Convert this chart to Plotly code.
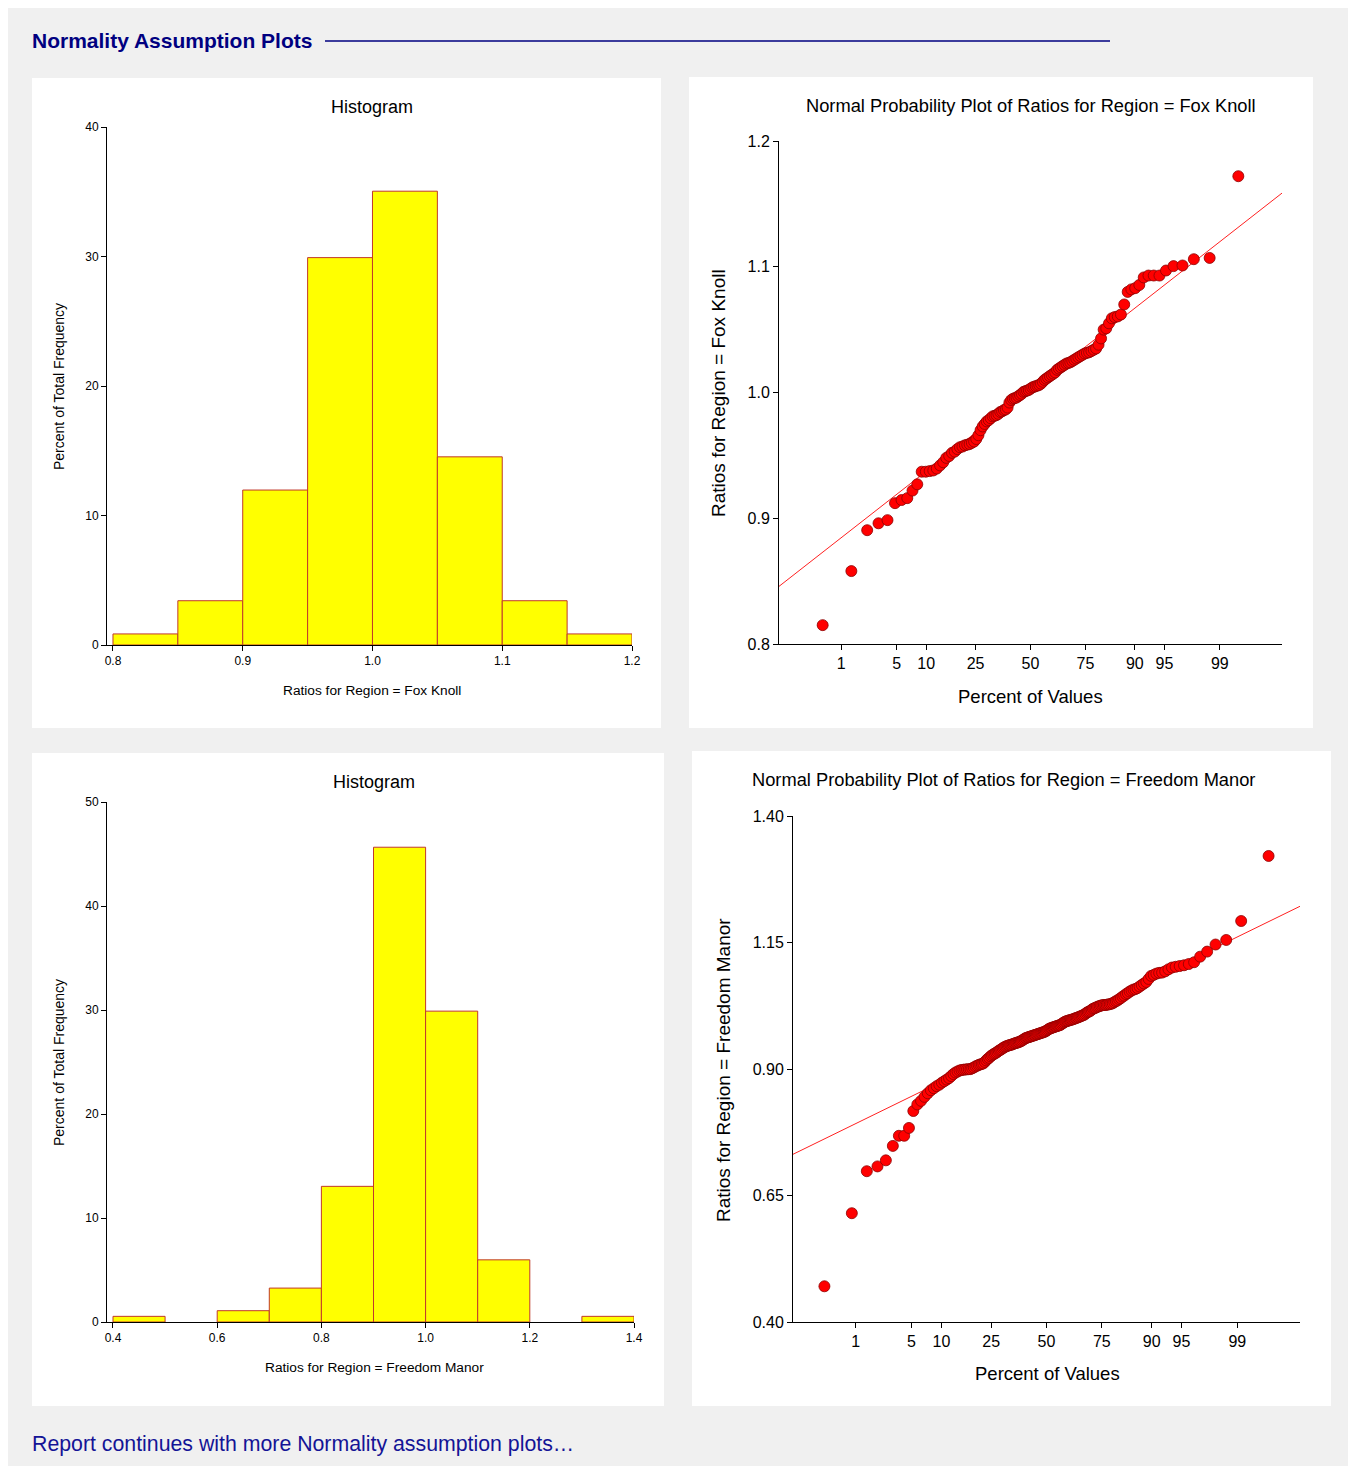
import plotly.graph_objects as go
from statistics import NormalDist

# page is 1356x1474; body keeps its default 8px margin, so the figure is offset by 8px
OFF = 8
W, H = 1340, 1458

# ---------------- data ----------------
fox_bin_edges = [0.80, 0.85, 0.90, 0.95, 1.00, 1.05, 1.10, 1.15, 1.20]
fox_bin_counts = [1, 4, 14, 35, 41, 17, 4, 1]

fm_bin_edges = [0.4, 0.5, 0.6, 0.7, 0.8, 0.9, 1.0, 1.1, 1.2, 1.3, 1.4]
fm_bin_counts = [1, 0, 2, 6, 24, 84, 55, 11, 0, 1]

fox_sorted = [
    0.815, 0.858, 0.8905, 0.896, 0.8985,
    0.912, 0.9145, 0.916, 0.922, 0.927, 0.937, 0.937, 0.9375, 0.938, 0.9395,
    0.942, 0.9445, 0.948, 0.9495,
    0.952, 0.953, 0.955, 0.9565, 0.957, 0.958, 0.9585, 0.959, 0.960, 0.961,
    0.963, 0.966, 0.970, 0.973, 0.975, 0.977, 0.978, 0.9795, 0.981, 0.9815,
    0.982, 0.983, 0.9845, 0.985, 0.986, 0.9865, 0.988, 0.992, 0.994, 0.995,
    0.9955, 0.996, 0.997, 0.998, 0.999,
    1.0005, 1.001, 1.0015, 1.002, 1.003, 1.004, 1.0045, 1.005, 1.0055, 1.006,
    1.007, 1.0085, 1.010, 1.011, 1.012, 1.013, 1.014, 1.015, 1.016, 1.018,
    1.019, 1.020, 1.021, 1.022, 1.023, 1.0235, 1.024, 1.025, 1.026, 1.027,
    1.028, 1.029, 1.030, 1.031, 1.0315, 1.032, 1.033, 1.034, 1.035, 1.038,
    1.043,
    1.050, 1.051, 1.055, 1.059, 1.060, 1.0605, 1.062, 1.070, 1.080, 1.082,
    1.083, 1.0855, 1.0915, 1.093, 1.093, 1.093, 1.097,
    1.1005, 1.101, 1.106, 1.107,
    1.172,
]

fm_sorted = [
    0.4706,
    0.615, 0.698,
    0.7075, 0.7195, 0.748, 0.768, 0.768, 0.7835,
    0.817, 0.830, 0.837, 0.845, 0.852, 0.858, 0.862, 0.866, 0.869, 0.873,
    0.876, 0.879, 0.882, 0.886, 0.890, 0.893, 0.895, 0.897, 0.898, 0.8985,
    0.899, 0.8993, 0.8996, 0.8998,
    0.9015, 0.903, 0.905, 0.9065, 0.908, 0.909, 0.910, 0.911, 0.914, 0.917,
    0.920, 0.922, 0.925, 0.927, 0.929, 0.9305, 0.932, 0.934, 0.936, 0.9375,
    0.939, 0.941, 0.9425, 0.944, 0.945, 0.946, 0.9467, 0.9475, 0.948, 0.949,
    0.950, 0.9508, 0.9515, 0.9523, 0.953, 0.954, 0.955, 0.9565, 0.958, 0.9595,
    0.961, 0.9617, 0.9625, 0.9632, 0.964, 0.9647, 0.9655, 0.9662, 0.967, 0.9677,
    0.9685, 0.9692, 0.970, 0.9707, 0.9715, 0.9722, 0.973, 0.9737, 0.975, 0.9765,
    0.978, 0.9795, 0.9805, 0.981, 0.982, 0.9827, 0.9835, 0.9842, 0.985, 0.9857,
    0.9865, 0.9872, 0.989, 0.9905, 0.992, 0.9935, 0.9942, 0.995, 0.9957, 0.9965,
    0.997, 0.9977, 0.9985, 0.9993,
    1.0005, 1.001, 1.002, 1.003, 1.004, 1.005, 1.006, 1.007, 1.009, 1.011,
    1.0125, 1.0135, 1.015, 1.017, 1.019, 1.020, 1.021, 1.0225, 1.0235, 1.0245,
    1.0255, 1.026, 1.0265, 1.0265, 1.027, 1.0275, 1.028, 1.029, 1.030, 1.032,
    1.034, 1.0355, 1.038, 1.040, 1.043, 1.045, 1.048, 1.050, 1.053, 1.055,
    1.057, 1.058, 1.060, 1.063, 1.066, 1.069, 1.072, 1.078, 1.084, 1.086,
    1.0885, 1.090, 1.0905, 1.093, 1.097,
    1.1005, 1.102, 1.1035, 1.105, 1.1075, 1.111, 1.122, 1.132, 1.146, 1.155,
    1.1925,
    1.321,
]

# reference lines (mean, sd)
fox_ref = (1.0022, 0.0506)
fm_ref = (0.9765, 0.0793)

pct_ticks = [1, 5, 10, 25, 50, 75, 90, 95, 99]
fox_yticks = [0.8, 0.9, 1.0, 1.1, 1.2]
fm_yticks = [0.40, 0.65, 0.90, 1.15, 1.40]
hist_fox_yticks = [0, 10, 20, 30, 40]
hist_fm_yticks = [0, 10, 20, 30, 40, 50]
hist_fox_xticks = [0.8, 0.9, 1.0, 1.1, 1.2]
hist_fm_xticks = [0.4, 0.6, 0.8, 1.0, 1.2, 1.4]

# ---------------- helpers ----------------
nd = NormalDist()
FONT = "Liberation Sans, Arial, sans-serif"
BAR_FILL = "#ffff00"
BAR_LINE = "#c0392b"
PT_FILL = "#ff0000"
PT_LINE = "#8b0000"


def fx(px):
    return (px - OFF) / W


def fy(py):
    return 1 - (py - OFF) / H


def blom(n):
    return [nd.inv_cdf((i - 0.375) / (n + 0.25)) for i in range(1, n + 1)]


fig = go.Figure()


def add_hist(edges, counts, xa, ya):
    n = sum(counts)
    centers, widths, pct = [], [], []
    for i, c in enumerate(counts):
        if c == 0:
            continue
        centers.append((edges[i] + edges[i + 1]) / 2)
        widths.append(edges[i + 1] - edges[i])
        pct.append(c / n * 100)
    fig.add_trace(go.Bar(
        x=centers, y=pct, width=widths, xaxis=xa, yaxis=ya,
        marker=dict(color=BAR_FILL, line=dict(color=BAR_LINE, width=1)),
        showlegend=False, hoverinfo="skip",
    ))


add_hist(fox_bin_edges, fox_bin_counts, "x", "y")
add_hist(fm_bin_edges, fm_bin_counts, "x3", "y3")

ZR = nd.inv_cdf(0.999)


def add_prob(vals, ref, xa, ya):
    z = blom(len(vals))
    m, s = ref
    fig.add_trace(go.Scatter(
        x=[-ZR, ZR], y=[m - s * ZR, m + s * ZR], mode="lines",
        line=dict(color="#ff2020", width=1), xaxis=xa, yaxis=ya,
        showlegend=False, hoverinfo="skip",
    ))
    fig.add_trace(go.Scatter(
        x=z, y=vals, mode="markers", xaxis=xa, yaxis=ya,
        marker=dict(size=11, color=PT_FILL, line=dict(color=PT_LINE, width=0.8)),
        showlegend=False, cliponaxis=False,
    ))


add_prob(fox_sorted, fox_ref, "x2", "y2")
add_prob(fm_sorted, fm_ref, "x4", "y4")

axis_common = dict(
    showline=True, linecolor="black", linewidth=1, ticks="outside",
    ticklen=5, tickcolor="black", tickwidth=1, showgrid=False,
    zeroline=False, fixedrange=True, automargin=False,
)

pz = [nd.inv_cdf(p / 100) for p in pct_ticks]

layout = dict(
    width=W, height=H, autosize=False,
    margin=dict(l=0, r=0, t=0, b=0, pad=0, autoexpand=False),
    paper_bgcolor="#f0f0f0", plot_bgcolor="rgba(0,0,0,0)",
    font=dict(family=FONT, color="black"),
    xaxis=dict(axis_common, domain=[fx(107), fx(632)], range=[0.7954, 1.2],
               anchor="y", tickvals=hist_fox_xticks,
               ticktext=[f"{v:.1f}" for v in hist_fox_xticks],
               tickfont=dict(size=12)),
    yaxis=dict(axis_common, domain=[fy(645), fy(127)], range=[0, 40],
               anchor="x", tickvals=hist_fox_yticks, tickfont=dict(size=12)),
    xaxis2=dict(axis_common, domain=[fx(779), fx(1282)], range=[-ZR, ZR],
                anchor="y2", tickvals=pz, ticktext=[str(p) for p in pct_ticks],
                tickfont=dict(size=16)),
    yaxis2=dict(axis_common, domain=[fy(644), fy(141)], range=[0.8, 1.2],
                anchor="x2", tickvals=fox_yticks,
                ticktext=[f"{v:.1f}" for v in fox_yticks],
                tickfont=dict(size=16)),
    xaxis3=dict(axis_common, domain=[fx(107), fx(634)], range=[0.3885, 1.4],
                anchor="y3", tickvals=hist_fm_xticks,
                ticktext=[f"{v:.1f}" for v in hist_fm_xticks],
                tickfont=dict(size=12)),
    yaxis3=dict(axis_common, domain=[fy(1322), fy(802)], range=[0, 50],
                anchor="x3", tickvals=hist_fm_yticks, tickfont=dict(size=12)),
    xaxis4=dict(axis_common, domain=[fx(793), fx(1300)], range=[-ZR, ZR],
                anchor="y4", tickvals=pz, ticktext=[str(p) for p in pct_ticks],
                tickfont=dict(size=16)),
    yaxis4=dict(axis_common, domain=[fy(1322), fy(816)], range=[0.40, 1.40],
                anchor="x4", tickvals=fm_yticks,
                ticktext=[f"{v:.2f}" for v in fm_yticks],
                tickfont=dict(size=16)),
)

shapes = []
for (x0, y0, x1, y1) in [(32, 78, 661, 728), (689, 77, 1313, 728),
                         (32, 753, 664, 1406), (692, 751, 1331, 1406)]:
    shapes.append(dict(type="rect", xref="paper", yref="paper",
                       x0=fx(x0), x1=fx(x1), y0=fy(y1), y1=fy(y0),
                       fillcolor="white", line=dict(width=0), layer="below"))
shapes.append(dict(type="line", xref="paper", yref="paper", x0=fx(325), x1=fx(1110),
                   y0=fy(41), y1=fy(41), line=dict(color="#000080", width=1.5)))
layout["shapes"] = shapes


def ann(text, px, py, size, color="black", xanchor="center", angle=0, bold=False):
    return dict(text=f"<b>{text}</b>" if bold else text, x=fx(px), y=fy(py),
                xref="paper", yref="paper", xanchor=xanchor, yanchor="middle",
                showarrow=False, textangle=angle, borderpad=0,
                font=dict(size=size, color=color, family=FONT))


layout["annotations"] = [
    ann("Normality Assumption Plots", 31, 41, 21, "#000080", "left", bold=True),
    ann("Report continues with more Normality assumption plots\u2026", 31, 1444, 21.3,
        "#141496", "left"),
    ann("Histogram", 372, 107, 18),
    ann("Ratios for Region = Fox Knoll", 372, 690, 13.7),
    ann("Percent of Total Frequency", 59, 387, 14, angle=-90),
    ann("Normal Probability Plot of Ratios for Region = Fox Knoll", 1031, 105, 18.3),
    ann("Percent of Values", 1030, 696, 18.5),
    ann("Ratios for Region = Fox Knoll", 718, 393, 19, angle=-90),
    ann("Histogram", 374, 782, 18),
    ann("Ratios for Region = Freedom Manor", 374, 1367, 13.7),
    ann("Percent of Total Frequency", 59, 1063, 14, angle=-90),
    ann("Normal Probability Plot of Ratios for Region = Freedom Manor", 1003, 779, 18.3),
    ann("Percent of Values", 1047, 1373, 18.5),
    ann("Ratios for Region = Freedom Manor", 723, 1070, 19, angle=-90),
]

fig.update_layout(**layout)

fig.write_html("out.html", config={"displayModeBar": False})
